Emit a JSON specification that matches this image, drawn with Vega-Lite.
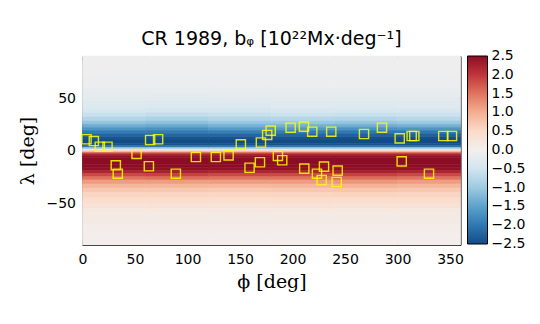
{
  "$schema": "https://vega.github.io/schema/vega-lite/v6.json",
  "width": 378,
  "height": 189,
  "autosize": {"type": "none"},
  "padding": {"left": 82.5, "top": 56, "right": 79.5, "bottom": 79},
  "background": "white",
  "title": {
    "text": "CR 1989, bᵩ [10²²Mx·deg⁻¹]",
    "font": "DejaVu Sans",
    "fontSize": 19,
    "fontWeight": "normal",
    "color": "black",
    "anchor": "middle",
    "offset": 7
  },
  "config": {
    "view": {"stroke": "black", "strokeWidth": 1},
    "axis": {
      "grid": false,
      "domain": false,
      "zindex": 1,
      "tickColor": "black",
      "tickWidth": 1,
      "tickSize": -4,
      "labelFont": "DejaVu Sans",
      "labelFontSize": 14,
      "labelColor": "black",
      "labelFlush": false,
      "titleFont": "DejaVu Serif",
      "titleFontSize": 19,
      "titleFontWeight": "normal",
      "titleColor": "black"
    },
    "legend": {
      "gradientLength": 188,
      "gradientThickness": 20,
      "gradientStrokeColor": "black",
      "gradientStrokeWidth": 1,
      "labelFont": "DejaVu Sans",
      "labelFontSize": 14,
      "labelColor": "black",
      "labelOverlap": false,
      "offset": 6,
      "padding": 0
    }
  },
  "resolve": {"axis": {"x": "independent", "y": "independent"}},
  "datasets": {
    "field": [
      {"p0":0,"p1":60,"l0":80,"l1":90,"v":-0.05},{"p0":0,"p1":60,"l0":70,"l1":80,"v":-0.07},{"p0":0,"p1":60,"l0":60,"l1":70,"v":-0.1},{"p0":0,"p1":60,"l0":55,"l1":60,"v":-0.15},{"p0":0,"p1":60,"l0":50,"l1":55,"v":-0.2},{"p0":0,"p1":60,"l0":45,"l1":50,"v":-0.26},{"p0":0,"p1":60,"l0":40,"l1":45,"v":-0.32},{"p0":0,"p1":60,"l0":36,"l1":40,"v":-0.42},{"p0":0,"p1":60,"l0":32,"l1":36,"v":-0.58},{"p0":0,"p1":60,"l0":28,"l1":32,"v":-0.8},{"p0":0,"p1":60,"l0":25,"l1":28,"v":-1.05},{"p0":0,"p1":60,"l0":22,"l1":25,"v":-1.35},{"p0":0,"p1":60,"l0":19,"l1":22,"v":-1.65},{"p0":0,"p1":60,"l0":16,"l1":19,"v":-1.95},{"p0":0,"p1":60,"l0":13,"l1":16,"v":-2.2},{"p0":0,"p1":60,"l0":10,"l1":13,"v":-2.4},{"p0":0,"p1":60,"l0":7,"l1":10,"v":-2.5},{"p0":0,"p1":60,"l0":5,"l1":7,"v":-2.45},{"p0":0,"p1":60,"l0":3,"l1":5,"v":-2.1},{"p0":0,"p1":60,"l0":1.5,"l1":3,"v":-1.1},{"p0":0,"p1":60,"l0":0,"l1":1.5,"v":-0.3},
      {"p0":0,"p1":60,"l0":-1.5,"l1":0,"v":0.6},{"p0":0,"p1":60,"l0":-3,"l1":-1.5,"v":1.5},{"p0":0,"p1":60,"l0":-5,"l1":-3,"v":2.2},{"p0":0,"p1":60,"l0":-7,"l1":-5,"v":2.45},{"p0":0,"p1":60,"l0":-10,"l1":-7,"v":2.5},{"p0":0,"p1":60,"l0":-13,"l1":-10,"v":2.5},{"p0":0,"p1":60,"l0":-16,"l1":-13,"v":2.5},{"p0":0,"p1":60,"l0":-19,"l1":-16,"v":2.45},{"p0":0,"p1":60,"l0":-22,"l1":-19,"v":2.2},{"p0":0,"p1":60,"l0":-25,"l1":-22,"v":1.85},{"p0":0,"p1":60,"l0":-28,"l1":-25,"v":1.5},{"p0":0,"p1":60,"l0":-32,"l1":-28,"v":1.15},{"p0":0,"p1":60,"l0":-36,"l1":-32,"v":0.9},{"p0":0,"p1":60,"l0":-40,"l1":-36,"v":0.72},{"p0":0,"p1":60,"l0":-45,"l1":-40,"v":0.57},{"p0":0,"p1":60,"l0":-50,"l1":-45,"v":0.44},{"p0":0,"p1":60,"l0":-55,"l1":-50,"v":0.32},{"p0":0,"p1":60,"l0":-60,"l1":-55,"v":0.2},{"p0":0,"p1":60,"l0":-70,"l1":-60,"v":0.12},{"p0":0,"p1":60,"l0":-80,"l1":-70,"v":0.07},{"p0":0,"p1":60,"l0":-90,"l1":-80,"v":0.04},

      {"p0":60,"p1":120,"l0":80,"l1":90,"v":-0.05},{"p0":60,"p1":120,"l0":70,"l1":80,"v":-0.07},{"p0":60,"p1":120,"l0":60,"l1":70,"v":-0.11},{"p0":60,"p1":120,"l0":55,"l1":60,"v":-0.16},{"p0":60,"p1":120,"l0":50,"l1":55,"v":-0.22},{"p0":60,"p1":120,"l0":45,"l1":50,"v":-0.28},{"p0":60,"p1":120,"l0":40,"l1":45,"v":-0.36},{"p0":60,"p1":120,"l0":36,"l1":40,"v":-0.47},{"p0":60,"p1":120,"l0":32,"l1":36,"v":-0.64},{"p0":60,"p1":120,"l0":28,"l1":32,"v":-0.86},{"p0":60,"p1":120,"l0":25,"l1":28,"v":-1.1},{"p0":60,"p1":120,"l0":22,"l1":25,"v":-1.4},{"p0":60,"p1":120,"l0":19,"l1":22,"v":-1.7},{"p0":60,"p1":120,"l0":16,"l1":19,"v":-1.95},{"p0":60,"p1":120,"l0":13,"l1":16,"v":-2.2},{"p0":60,"p1":120,"l0":10,"l1":13,"v":-2.4},{"p0":60,"p1":120,"l0":7,"l1":10,"v":-2.5},{"p0":60,"p1":120,"l0":5,"l1":7,"v":-2.45},{"p0":60,"p1":120,"l0":3,"l1":5,"v":-2.1},{"p0":60,"p1":120,"l0":1.5,"l1":3,"v":-1.1},{"p0":60,"p1":120,"l0":0,"l1":1.5,"v":-0.3},
      {"p0":60,"p1":120,"l0":-1.5,"l1":0,"v":0.6},{"p0":60,"p1":120,"l0":-3,"l1":-1.5,"v":1.5},{"p0":60,"p1":120,"l0":-5,"l1":-3,"v":2.2},{"p0":60,"p1":120,"l0":-7,"l1":-5,"v":2.45},{"p0":60,"p1":120,"l0":-10,"l1":-7,"v":2.5},{"p0":60,"p1":120,"l0":-13,"l1":-10,"v":2.5},{"p0":60,"p1":120,"l0":-16,"l1":-13,"v":2.5},{"p0":60,"p1":120,"l0":-19,"l1":-16,"v":2.45},{"p0":60,"p1":120,"l0":-22,"l1":-19,"v":2.25},{"p0":60,"p1":120,"l0":-25,"l1":-22,"v":1.9},{"p0":60,"p1":120,"l0":-28,"l1":-25,"v":1.55},{"p0":60,"p1":120,"l0":-32,"l1":-28,"v":1.15},{"p0":60,"p1":120,"l0":-36,"l1":-32,"v":0.9},{"p0":60,"p1":120,"l0":-40,"l1":-36,"v":0.72},{"p0":60,"p1":120,"l0":-45,"l1":-40,"v":0.57},{"p0":60,"p1":120,"l0":-50,"l1":-45,"v":0.44},{"p0":60,"p1":120,"l0":-55,"l1":-50,"v":0.32},{"p0":60,"p1":120,"l0":-60,"l1":-55,"v":0.2},{"p0":60,"p1":120,"l0":-70,"l1":-60,"v":0.12},{"p0":60,"p1":120,"l0":-80,"l1":-70,"v":0.07},{"p0":60,"p1":120,"l0":-90,"l1":-80,"v":0.04},

      {"p0":120,"p1":180,"l0":80,"l1":90,"v":-0.05},{"p0":120,"p1":180,"l0":70,"l1":80,"v":-0.07},{"p0":120,"p1":180,"l0":60,"l1":70,"v":-0.1},{"p0":120,"p1":180,"l0":55,"l1":60,"v":-0.15},{"p0":120,"p1":180,"l0":50,"l1":55,"v":-0.21},{"p0":120,"p1":180,"l0":45,"l1":50,"v":-0.27},{"p0":120,"p1":180,"l0":40,"l1":45,"v":-0.34},{"p0":120,"p1":180,"l0":36,"l1":40,"v":-0.45},{"p0":120,"p1":180,"l0":32,"l1":36,"v":-0.6},{"p0":120,"p1":180,"l0":28,"l1":32,"v":-0.8},{"p0":120,"p1":180,"l0":25,"l1":28,"v":-1.03},{"p0":120,"p1":180,"l0":22,"l1":25,"v":-1.3},{"p0":120,"p1":180,"l0":19,"l1":22,"v":-1.6},{"p0":120,"p1":180,"l0":16,"l1":19,"v":-1.92},{"p0":120,"p1":180,"l0":13,"l1":16,"v":-2.2},{"p0":120,"p1":180,"l0":10,"l1":13,"v":-2.4},{"p0":120,"p1":180,"l0":7,"l1":10,"v":-2.5},{"p0":120,"p1":180,"l0":5,"l1":7,"v":-2.45},{"p0":120,"p1":180,"l0":3,"l1":5,"v":-2.1},{"p0":120,"p1":180,"l0":1.5,"l1":3,"v":-1.1},{"p0":120,"p1":180,"l0":0,"l1":1.5,"v":-0.3},
      {"p0":120,"p1":180,"l0":-1.5,"l1":0,"v":0.6},{"p0":120,"p1":180,"l0":-3,"l1":-1.5,"v":1.5},{"p0":120,"p1":180,"l0":-5,"l1":-3,"v":2.2},{"p0":120,"p1":180,"l0":-7,"l1":-5,"v":2.45},{"p0":120,"p1":180,"l0":-10,"l1":-7,"v":2.5},{"p0":120,"p1":180,"l0":-13,"l1":-10,"v":2.5},{"p0":120,"p1":180,"l0":-16,"l1":-13,"v":2.5},{"p0":120,"p1":180,"l0":-19,"l1":-16,"v":2.45},{"p0":120,"p1":180,"l0":-22,"l1":-19,"v":2.2},{"p0":120,"p1":180,"l0":-25,"l1":-22,"v":1.85},{"p0":120,"p1":180,"l0":-28,"l1":-25,"v":1.5},{"p0":120,"p1":180,"l0":-32,"l1":-28,"v":1.15},{"p0":120,"p1":180,"l0":-36,"l1":-32,"v":0.88},{"p0":120,"p1":180,"l0":-40,"l1":-36,"v":0.7},{"p0":120,"p1":180,"l0":-45,"l1":-40,"v":0.55},{"p0":120,"p1":180,"l0":-50,"l1":-45,"v":0.43},{"p0":120,"p1":180,"l0":-55,"l1":-50,"v":0.31},{"p0":120,"p1":180,"l0":-60,"l1":-55,"v":0.19},{"p0":120,"p1":180,"l0":-70,"l1":-60,"v":0.12},{"p0":120,"p1":180,"l0":-80,"l1":-70,"v":0.07},{"p0":120,"p1":180,"l0":-90,"l1":-80,"v":0.04},

      {"p0":180,"p1":240,"l0":80,"l1":90,"v":-0.05},{"p0":180,"p1":240,"l0":70,"l1":80,"v":-0.07},{"p0":180,"p1":240,"l0":60,"l1":70,"v":-0.09},{"p0":180,"p1":240,"l0":55,"l1":60,"v":-0.14},{"p0":180,"p1":240,"l0":50,"l1":55,"v":-0.19},{"p0":180,"p1":240,"l0":45,"l1":50,"v":-0.24},{"p0":180,"p1":240,"l0":40,"l1":45,"v":-0.3},{"p0":180,"p1":240,"l0":36,"l1":40,"v":-0.4},{"p0":180,"p1":240,"l0":32,"l1":36,"v":-0.56},{"p0":180,"p1":240,"l0":28,"l1":32,"v":-0.77},{"p0":180,"p1":240,"l0":25,"l1":28,"v":-1.02},{"p0":180,"p1":240,"l0":22,"l1":25,"v":-1.32},{"p0":180,"p1":240,"l0":19,"l1":22,"v":-1.62},{"p0":180,"p1":240,"l0":16,"l1":19,"v":-1.95},{"p0":180,"p1":240,"l0":13,"l1":16,"v":-2.2},{"p0":180,"p1":240,"l0":10,"l1":13,"v":-2.4},{"p0":180,"p1":240,"l0":7,"l1":10,"v":-2.5},{"p0":180,"p1":240,"l0":5,"l1":7,"v":-2.45},{"p0":180,"p1":240,"l0":3,"l1":5,"v":-2.1},{"p0":180,"p1":240,"l0":1.5,"l1":3,"v":-1.1},{"p0":180,"p1":240,"l0":0,"l1":1.5,"v":-0.3},
      {"p0":180,"p1":240,"l0":-1.5,"l1":0,"v":0.6},{"p0":180,"p1":240,"l0":-3,"l1":-1.5,"v":1.5},{"p0":180,"p1":240,"l0":-5,"l1":-3,"v":2.2},{"p0":180,"p1":240,"l0":-7,"l1":-5,"v":2.45},{"p0":180,"p1":240,"l0":-10,"l1":-7,"v":2.5},{"p0":180,"p1":240,"l0":-13,"l1":-10,"v":2.5},{"p0":180,"p1":240,"l0":-16,"l1":-13,"v":2.5},{"p0":180,"p1":240,"l0":-19,"l1":-16,"v":2.45},{"p0":180,"p1":240,"l0":-22,"l1":-19,"v":2.2},{"p0":180,"p1":240,"l0":-25,"l1":-22,"v":1.85},{"p0":180,"p1":240,"l0":-28,"l1":-25,"v":1.5},{"p0":180,"p1":240,"l0":-32,"l1":-28,"v":1.15},{"p0":180,"p1":240,"l0":-36,"l1":-32,"v":0.9},{"p0":180,"p1":240,"l0":-40,"l1":-36,"v":0.72},{"p0":180,"p1":240,"l0":-45,"l1":-40,"v":0.57},{"p0":180,"p1":240,"l0":-50,"l1":-45,"v":0.44},{"p0":180,"p1":240,"l0":-55,"l1":-50,"v":0.32},{"p0":180,"p1":240,"l0":-60,"l1":-55,"v":0.2},{"p0":180,"p1":240,"l0":-70,"l1":-60,"v":0.12},{"p0":180,"p1":240,"l0":-80,"l1":-70,"v":0.07},{"p0":180,"p1":240,"l0":-90,"l1":-80,"v":0.04},

      {"p0":240,"p1":300,"l0":80,"l1":90,"v":-0.05},{"p0":240,"p1":300,"l0":70,"l1":80,"v":-0.07},{"p0":240,"p1":300,"l0":60,"l1":70,"v":-0.1},{"p0":240,"p1":300,"l0":55,"l1":60,"v":-0.15},{"p0":240,"p1":300,"l0":50,"l1":55,"v":-0.2},{"p0":240,"p1":300,"l0":45,"l1":50,"v":-0.26},{"p0":240,"p1":300,"l0":40,"l1":45,"v":-0.32},{"p0":240,"p1":300,"l0":36,"l1":40,"v":-0.42},{"p0":240,"p1":300,"l0":32,"l1":36,"v":-0.58},{"p0":240,"p1":300,"l0":28,"l1":32,"v":-0.8},{"p0":240,"p1":300,"l0":25,"l1":28,"v":-1.05},{"p0":240,"p1":300,"l0":22,"l1":25,"v":-1.35},{"p0":240,"p1":300,"l0":19,"l1":22,"v":-1.7},{"p0":240,"p1":300,"l0":16,"l1":19,"v":-2.0},{"p0":240,"p1":300,"l0":13,"l1":16,"v":-2.25},{"p0":240,"p1":300,"l0":10,"l1":13,"v":-2.45},{"p0":240,"p1":300,"l0":7,"l1":10,"v":-2.5},{"p0":240,"p1":300,"l0":5,"l1":7,"v":-2.45},{"p0":240,"p1":300,"l0":3,"l1":5,"v":-2.1},{"p0":240,"p1":300,"l0":1.5,"l1":3,"v":-1.1},{"p0":240,"p1":300,"l0":0,"l1":1.5,"v":-0.3},
      {"p0":240,"p1":300,"l0":-1.5,"l1":0,"v":0.6},{"p0":240,"p1":300,"l0":-3,"l1":-1.5,"v":1.5},{"p0":240,"p1":300,"l0":-5,"l1":-3,"v":2.2},{"p0":240,"p1":300,"l0":-7,"l1":-5,"v":2.45},{"p0":240,"p1":300,"l0":-10,"l1":-7,"v":2.5},{"p0":240,"p1":300,"l0":-13,"l1":-10,"v":2.5},{"p0":240,"p1":300,"l0":-16,"l1":-13,"v":2.5},{"p0":240,"p1":300,"l0":-19,"l1":-16,"v":2.45},{"p0":240,"p1":300,"l0":-22,"l1":-19,"v":2.25},{"p0":240,"p1":300,"l0":-25,"l1":-22,"v":1.9},{"p0":240,"p1":300,"l0":-28,"l1":-25,"v":1.55},{"p0":240,"p1":300,"l0":-32,"l1":-28,"v":1.2},{"p0":240,"p1":300,"l0":-36,"l1":-32,"v":0.95},{"p0":240,"p1":300,"l0":-40,"l1":-36,"v":0.75},{"p0":240,"p1":300,"l0":-45,"l1":-40,"v":0.58},{"p0":240,"p1":300,"l0":-50,"l1":-45,"v":0.44},{"p0":240,"p1":300,"l0":-55,"l1":-50,"v":0.32},{"p0":240,"p1":300,"l0":-60,"l1":-55,"v":0.2},{"p0":240,"p1":300,"l0":-70,"l1":-60,"v":0.12},{"p0":240,"p1":300,"l0":-80,"l1":-70,"v":0.07},{"p0":240,"p1":300,"l0":-90,"l1":-80,"v":0.04},

      {"p0":300,"p1":360,"l0":80,"l1":90,"v":-0.05},{"p0":300,"p1":360,"l0":70,"l1":80,"v":-0.07},{"p0":300,"p1":360,"l0":60,"l1":70,"v":-0.09},{"p0":300,"p1":360,"l0":55,"l1":60,"v":-0.14},{"p0":300,"p1":360,"l0":50,"l1":55,"v":-0.19},{"p0":300,"p1":360,"l0":45,"l1":50,"v":-0.24},{"p0":300,"p1":360,"l0":40,"l1":45,"v":-0.3},{"p0":300,"p1":360,"l0":36,"l1":40,"v":-0.4},{"p0":300,"p1":360,"l0":32,"l1":36,"v":-0.55},{"p0":300,"p1":360,"l0":28,"l1":32,"v":-0.75},{"p0":300,"p1":360,"l0":25,"l1":28,"v":-1.0},{"p0":300,"p1":360,"l0":22,"l1":25,"v":-1.3},{"p0":300,"p1":360,"l0":19,"l1":22,"v":-1.65},{"p0":300,"p1":360,"l0":16,"l1":19,"v":-2.0},{"p0":300,"p1":360,"l0":13,"l1":16,"v":-2.25},{"p0":300,"p1":360,"l0":10,"l1":13,"v":-2.45},{"p0":300,"p1":360,"l0":7,"l1":10,"v":-2.5},{"p0":300,"p1":360,"l0":5,"l1":7,"v":-2.45},{"p0":300,"p1":360,"l0":3,"l1":5,"v":-2.15},{"p0":300,"p1":360,"l0":1.5,"l1":3,"v":-1.1},{"p0":300,"p1":360,"l0":0,"l1":1.5,"v":-0.3},
      {"p0":300,"p1":360,"l0":-1.5,"l1":0,"v":0.6},{"p0":300,"p1":360,"l0":-3,"l1":-1.5,"v":1.5},{"p0":300,"p1":360,"l0":-5,"l1":-3,"v":2.2},{"p0":300,"p1":360,"l0":-7,"l1":-5,"v":2.45},{"p0":300,"p1":360,"l0":-10,"l1":-7,"v":2.5},{"p0":300,"p1":360,"l0":-13,"l1":-10,"v":2.5},{"p0":300,"p1":360,"l0":-16,"l1":-13,"v":2.5},{"p0":300,"p1":360,"l0":-19,"l1":-16,"v":2.45},{"p0":300,"p1":360,"l0":-22,"l1":-19,"v":2.2},{"p0":300,"p1":360,"l0":-25,"l1":-22,"v":1.85},{"p0":300,"p1":360,"l0":-28,"l1":-25,"v":1.5},{"p0":300,"p1":360,"l0":-32,"l1":-28,"v":1.15},{"p0":300,"p1":360,"l0":-36,"l1":-32,"v":0.9},{"p0":300,"p1":360,"l0":-40,"l1":-36,"v":0.72},{"p0":300,"p1":360,"l0":-45,"l1":-40,"v":0.57},{"p0":300,"p1":360,"l0":-50,"l1":-45,"v":0.44},{"p0":300,"p1":360,"l0":-55,"l1":-50,"v":0.32},{"p0":300,"p1":360,"l0":-60,"l1":-55,"v":0.2},{"p0":300,"p1":360,"l0":-70,"l1":-60,"v":0.12},{"p0":300,"p1":360,"l0":-80,"l1":-70,"v":0.07},{"p0":300,"p1":360,"l0":-90,"l1":-80,"v":0.04}
    ],
    "regions": [
      {"phi":3.8,"lat":10.7},{"phi":10.8,"lat":9.0},{"phi":16.5,"lat":3.6},{"phi":23.8,"lat":3.6},
      {"phi":31.7,"lat":-14.1},{"phi":33.6,"lat":-22.1},{"phi":51.5,"lat":-3.3},{"phi":64.4,"lat":10.0},
      {"phi":72.0,"lat":10.7},{"phi":63.2,"lat":-15.0},{"phi":88.9,"lat":-22.1},{"phi":108.0,"lat":-6.2},
      {"phi":127.0,"lat":-6.2},{"phi":139.1,"lat":-4.6},{"phi":150.8,"lat":5.9},{"phi":159.1,"lat":-16.4},
      {"phi":169.0,"lat":-11.2},{"phi":169.9,"lat":7.6},{"phi":175.9,"lat":14.8},{"phi":179.2,"lat":18.9},
      {"phi":198.2,"lat":21.7},{"phi":210.9,"lat":22.7},{"phi":218.8,"lat":17.9},{"phi":236.9,"lat":17.9},
      {"phi":268.1,"lat":15.7},{"phi":285.2,"lat":21.7},{"phi":302.1,"lat":11.6},{"phi":313.5,"lat":13.8},
      {"phi":316.0,"lat":13.8},{"phi":343.6,"lat":13.8},{"phi":351.9,"lat":13.8},{"phi":186.1,"lat":-5.2},
      {"phi":190.2,"lat":-9.3},{"phi":211.2,"lat":-17.3},{"phi":230.0,"lat":-15.4},{"phi":223.3,"lat":-22.1},
      {"phi":227.8,"lat":-28.1},{"phi":243.0,"lat":-19.2},{"phi":242.1,"lat":-30.0},{"phi":304.0,"lat":-10.3},
      {"phi":330.0,"lat":-22.1}
    ]
  },
  "layer": [
    {
      "data": {"name": "field"},
      "mark": {"type": "rect", "strokeWidth": 0.6, "stroke": {"expr": "scale('color', datum.v)"}},
      "encoding": {
        "x": {
          "field": "p0", "type": "quantitative",
          "scale": {"domain": [0, 360], "nice": false},
          "axis": {"orient": "bottom", "values": [0, 50, 100, 150, 200, 250, 300, 350], "title": "ϕ [deg]", "labelPadding": 11, "titlePadding": 6}
        },
        "x2": {"field": "p1"},
        "y": {
          "field": "l0", "type": "quantitative",
          "scale": {"domain": [-90, 90], "nice": false},
          "axis": {"orient": "left", "values": [-50, 0, 50], "title": "λ [deg]", "labelPadding": 11, "titlePadding": 8}
        },
        "y2": {"field": "l1"},
        "color": {
          "field": "v", "type": "quantitative",
          "scale": {"scheme": "redblue", "reverse": true, "domain": [-2.5, 2.5], "clamp": true},
          "legend": {
            "type": "gradient",
            "title": null,
            "direction": "vertical",
            "values": [-2.5, -2, -1.5, -1, -0.5, 0, 0.5, 1, 1.5, 2, 2.5],
            "format": ".1f",
            "labelOffset": 4,
            "encode": {
              "labels": {"update": {"baseline": {"value": "middle"}}}
            }
          }
        }
      }
    },
    {
      "data": {"name": "regions"},
      "mark": {"type": "point", "shape": "square", "filled": false, "stroke": "#ffff00", "strokeWidth": 1.4, "size": 85, "opacity": 0.85},
      "encoding": {
        "x": {
          "field": "phi", "type": "quantitative",
          "axis": {"orient": "top", "values": [0, 50, 100, 150, 200, 250, 300, 350], "labels": false, "title": null}
        },
        "y": {
          "field": "lat", "type": "quantitative",
          "axis": {"orient": "right", "values": [-50, 0, 50], "labels": false, "title": null}
        }
      }
    }
  ]
}
